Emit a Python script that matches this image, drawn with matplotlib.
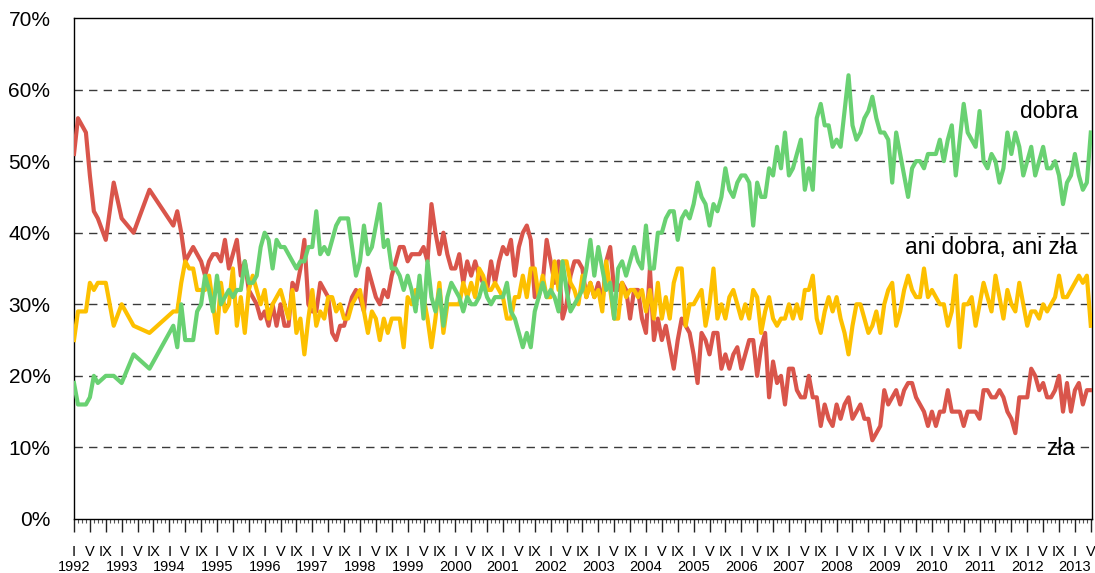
import matplotlib
matplotlib.use("Agg")
import matplotlib.pyplot as plt

plt.rcParams['font.family'] = ['Liberation Sans', 'DejaVu Sans']

# ---- data -------------------------------------------------------------
START_YEAR = 1992
# month index counted from January 1992 (sparse in 1992-1994, then monthly)
months = [0, 1, 3, 4, 5, 6, 8, 10, 12, 15, 19, 25, 26] + list(range(27, 257))

dobra = ([19, 16, 16, 17, 20, 19, 20, 20, 19, 23, 21, 27, 24]
         + [30, 25, 25, 25, 29, 30, 34, 32, 29, 34, 30, 31, 32, 31, 32, 32, 36]
         + [33, 33, 34, 38, 40, 39, 35, 39, 38, 38, 37, 36, 35, 36, 36, 38, 38, 43, 37, 38,
            37, 39, 41, 42, 42, 42, 38, 34, 36, 41, 37, 38, 41, 44, 38, 39, 35, 35, 34, 32]
         + [34, 32, 29, 34, 28, 36, 31, 29, 32, 27, 31, 33, 32, 31, 29, 31, 30, 30, 31, 33,
            31, 30, 31, 31, 31, 33, 29, 28, 26, 24, 26, 24, 29, 31, 33, 31, 32, 31, 29, 36,
            32, 29, 30, 31]
         + [32, 35, 39, 34, 38, 35, 32, 33, 28, 35, 36, 34, 36, 38, 36, 35, 41, 35, 35, 40,
            40, 42, 43, 43, 39, 42, 43, 42, 44, 47, 45, 44, 41, 44, 43, 45, 49, 46, 45, 47,
            48, 48]
         + [47, 41, 47, 45, 45, 49, 48, 52, 49, 54, 48, 49, 51, 53, 46, 49, 46, 56, 58, 55,
            55, 52, 53, 52, 57, 62, 55, 53, 54, 56, 57, 59, 56, 54, 54, 53, 47, 54, 51, 48,
            45, 49, 50]
         + [50, 49, 51, 51, 51, 53, 50, 53, 55, 48, 53, 58, 54, 53, 52, 57, 50, 49, 51, 50,
            47, 49, 54, 51, 54, 52, 48, 50, 52, 48, 50, 52, 49, 49, 50, 48, 44, 47, 48, 51,
            48, 46, 47, 54])

zla = ([51, 56, 54, 48, 43, 42, 39, 47, 42, 40, 46, 41, 43]
       + [40, 36, 37, 38, 37, 36, 34, 36, 37, 37, 36, 39, 35, 37, 39, 34]
       + [36, 32, 31, 30, 28, 29, 27, 30, 27, 30, 27, 27, 33, 32, 35, 39, 30, 29, 29, 33,
          32, 31, 26, 25, 27, 27, 29, 31, 32, 31, 29, 35, 33, 31, 30, 32, 31, 34, 36, 38,
          38, 36]
       + [37, 37, 37, 38, 36, 44, 40, 37, 40, 37, 35, 35, 37, 33, 36, 34, 36, 34, 33, 32,
          36, 33, 36, 38, 37, 39, 34, 38, 40, 41, 39, 31, 32, 33, 39, 36, 33, 36, 28, 30,
          34, 36, 36]
       + [35, 31, 33, 31, 33, 30, 36, 38, 32, 32, 33, 32, 28, 32, 32, 28, 26, 35, 25, 28,
          25, 27, 24, 21, 25, 28, 27, 26, 23, 19, 26, 25, 23, 26, 26, 21, 23, 21, 23, 24,
          21, 23, 25, 25]
       + [20, 24, 26, 17, 22, 19, 20, 16, 21, 21, 18, 17, 17, 20, 17, 17, 13, 16, 14, 13,
          16, 14, 16, 17, 14, 15, 16, 14, 14, 11, 12, 13, 18, 16, 17, 18, 16, 18, 19, 19,
          17]
       + [16, 15, 13, 15, 13, 15, 15, 18, 15, 15, 15, 13, 15, 15, 15, 14, 18, 18, 17, 17,
          18, 17, 15, 14, 12, 17, 17, 17, 21, 20, 18, 19, 17, 17, 18, 20, 15, 19, 15, 18,
          19, 16, 18, 18])

ani = ([25, 29, 29, 33, 32, 33, 33, 27, 30, 27, 26, 29, 29]
       + [33, 36, 35, 35, 32, 32, 32, 34, 30, 26, 33, 29, 30, 35, 27, 31, 26]
       + [32, 34, 32, 30, 32, 28, 30, 31, 32, 30, 28, 32, 26, 28, 23, 28, 32, 27, 29, 28,
          31, 31, 29, 30, 28, 28, 30, 31, 32, 29, 26, 29, 28, 25, 28, 26, 28, 28, 28, 24,
          31]
       + [30, 32, 31, 31, 28, 24, 28, 33, 26, 30, 30, 30, 30, 33, 31, 33, 31, 35, 34, 32,
          32, 33, 32, 31, 28, 28, 31, 31, 34, 31, 35, 35, 31, 34, 31, 31, 36, 32, 36, 36,
          33, 32, 30]
       + [34, 31, 33, 31, 32, 29, 36, 32, 28, 28, 33, 31, 32, 32, 31, 32, 29, 32, 28, 33,
          28, 31, 28, 33, 35, 35, 27, 30, 30, 31, 32, 27, 30, 35, 28, 30, 28, 31, 32, 30,
          28, 30, 28, 32]
       + [31, 26, 29, 31, 28, 27, 28, 28, 30, 28, 30, 28, 32, 32, 34, 28, 26, 29, 31, 29,
          31, 28, 26, 23, 27, 30, 30, 28, 26, 27, 29, 26, 30, 32, 33, 27, 29, 32, 34, 32,
          31]
       + [31, 35, 31, 32, 31, 30, 30, 27, 29, 34, 24, 30, 30, 31, 27, 30, 33, 31, 29, 34,
          31, 28, 32, 30, 29, 33, 30, 27, 29, 29, 28, 30, 29, 30, 31, 34, 31, 31, 32, 33,
          34, 33, 34, 27])

roman_months = ['I', 'V', 'IX']
y_ticks = [0, 10, 20, 30, 40, 50, 60, 70]
series_labels = ['dobra', 'ani dobra, ani zła', 'zła']

# ---- styling ----------------------------------------------------------
RED = '#d9554b'
GREEN = '#69d172'
YELLOW = '#fdc000'

fig = plt.figure(figsize=(10.95, 5.73), dpi=100)
ax = fig.add_axes([74 / 1095, 1 - 519 / 573, (1092 - 74) / 1095, (519 - 18) / 573])

ax.plot(months, zla, color=RED, lw=3.0, zorder=3)
ax.plot(months, ani, color=YELLOW, lw=3.0, zorder=4)
ax.plot(months, dobra, color=GREEN, lw=3.0, zorder=5)

last_month = months[-1]
ax.set_xlim(0, last_month + 0.3)
ax.set_ylim(0, 70)

for v in y_ticks[1:-1]:
    ax.axhline(v, color='#3a3a3a', lw=1.0, dashes=(6, 4.5), zorder=1)

ax.set_yticks(y_ticks)
ax.set_yticklabels([f'{v}%' for v in y_ticks])
ax.tick_params(axis='y', length=0, pad=17, labelsize=15)

# x axis: month ticks, roman month labels (I, V, IX) and year labels below
major = [m for m in range(0, last_month + 1) if m % 4 == 0]
ax.set_xticks(major)
ax.set_xticklabels([roman_months[(m % 12) // 4] for m in major])
ax.set_xticks(range(0, last_month + 1), minor=True)
ax.tick_params(axis='x', which='major', length=9.5, width=1.0, labelsize=10.5,
               pad=9, color='#222222')
ax.tick_params(axis='x', which='minor', length=3.2, width=0.8, color='#555555')

for m in major:
    if m % 12 == 0:
        ax.annotate(str(START_YEAR + m // 12), xy=(m, 0),
                    xycoords=('data', 'axes fraction'),
                    xytext=(0, -34.5), textcoords='offset points',
                    ha='center', va='center', fontsize=10.5, annotation_clip=False)

for sp in ax.spines.values():
    sp.set_color('black')
    sp.set_linewidth(1.0)

ax.text(252.7, 57.0, series_labels[0], ha='right', va='center', fontsize=16.3)
ax.text(252.7, 38.0, series_labels[1], ha='right', va='center', fontsize=16.3)
ax.text(252.0, 9.9, series_labels[2], ha='right', va='center', fontsize=16.3)

fig.savefig('out.png', dpi=100)
